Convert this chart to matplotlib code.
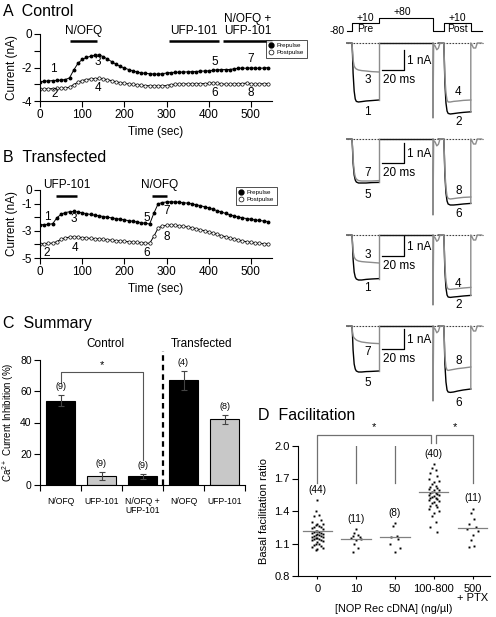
import numpy as np
import matplotlib
matplotlib.use("Agg")
import matplotlib.pyplot as plt
from matplotlib.lines import Line2D

plt.rcParams["font.family"] = ["Liberation Sans", "DejaVu Sans"]
plt.rcParams["axes.unicode_minus"] = False
plt.rcParams["mathtext.fontset"] = "custom"
plt.rcParams["mathtext.rm"] = "Liberation Sans"
plt.rcParams["axes.linewidth"] = 0.8
plt.rcParams["xtick.major.width"] = 0.8
plt.rcParams["ytick.major.width"] = 0.8

# ---------- Panel A / B: time course (s, nA) ----------
TIME = list(range(0, 550, 10))

A_PRE = [-2.85, -2.82, -2.80, -2.78, -2.77, -2.75, -2.72, -2.62, -2.15, -1.75,
         -1.52, -1.40, -1.33, -1.27, -1.25, -1.35, -1.50, -1.65, -1.80, -1.93,
         -2.03, -2.12, -2.20, -2.27, -2.32, -2.35, -2.37, -2.39, -2.40, -2.37,
         -2.33, -2.30, -2.29, -2.28, -2.27, -2.26, -2.25, -2.24, -2.22, -2.21,
         -2.20, -2.17, -2.14, -2.13, -2.12, -2.12, -2.08, -2.05, -2.03, -2.05,
         -2.02, -2.04, -2.05, -2.03, -2.01]
A_POST = [-3.30, -3.28, -3.27, -3.26, -3.25, -3.24, -3.22, -3.18, -3.02, -2.88,
          -2.78, -2.72, -2.68, -2.66, -2.65, -2.68, -2.73, -2.79, -2.85, -2.90,
          -2.95, -2.98, -3.01, -3.04, -3.06, -3.08, -3.09, -3.10, -3.10, -3.09,
          -3.08, -3.02, -3.00, -2.99, -2.98, -2.98, -2.98, -2.97, -2.97, -2.96,
          -2.95, -2.92, -2.95, -2.97, -3.00, -3.00, -2.98, -2.97, -2.96, -2.93,
          -2.98, -3.00, -2.98, -2.97, -2.97]
B_PRE = [-2.55, -2.55, -2.52, -2.48, -2.05, -1.78, -1.66, -1.60, -1.58, -1.62,
         -1.68, -1.74, -1.80, -1.85, -1.90, -1.95, -2.00, -2.05, -2.10, -2.15,
         -2.20, -2.25, -2.30, -2.35, -2.40, -2.45, -2.50, -1.70, -1.02, -0.92,
         -0.88, -0.87, -0.88, -0.90, -0.93, -0.97, -1.02, -1.08, -1.15, -1.23,
         -1.32, -1.42, -1.52, -1.62, -1.72, -1.82, -1.90, -1.98, -2.05, -2.10,
         -2.15, -2.20, -2.24, -2.28, -2.32]
B_POST = [-3.95, -3.95, -3.93, -3.90, -3.80, -3.62, -3.52, -3.47, -3.45, -3.47,
          -3.50, -3.53, -3.56, -3.58, -3.60, -3.63, -3.66, -3.69, -3.72, -3.75,
          -3.78, -3.80, -3.83, -3.85, -3.88, -3.90, -3.92, -3.40, -2.80, -2.65,
          -2.60, -2.58, -2.60, -2.63, -2.67, -2.72, -2.78, -2.85, -2.92, -3.00,
          -3.08, -3.17, -3.26, -3.35, -3.44, -3.52, -3.60, -3.68, -3.75, -3.80,
          -3.85, -3.90, -3.93, -3.95, -3.97]

A_DRUGS = [("N/OFQ", 70, 135), ("UFP-101", 305, 425), ("N/OFQ +\nUFP-101", 435, 550)]
B_DRUGS = [("UFP-101", 38, 88), ("N/OFQ", 265, 300)]
A_MARKS = [("1", 31, -2.1), ("2", 34, -3.6), ("3", 136, -1.7), ("4", 137, -3.2),
           ("5", 415, -1.67), ("6", 415, -3.55), ("7", 499, -1.5), ("8", 499, -3.55)]
B_MARKS = [("1", 17, -2.0), ("2", 17, -4.6), ("3", 81, -2.1), ("4", 83, -4.25),
           ("5", 253, -2.05), ("6", 253, -4.6), ("7", 301, -1.55), ("8", 301, -3.45)]

# ---------- Panel C: summary ----------
C_LABELS = ["N/OFQ", "UFP-101", "N/OFQ +\nUFP-101", "N/OFQ", "UFP-101"]
C_VALUES = [54, 6, 5.5, 67, 42]
C_ERRORS = [3.5, 2.5, 1.5, 6, 3]
C_N = ["(9)", "(9)", "(9)", "(4)", "(8)"]
C_COLORS = ["black", "#c8c8c8", "black", "black", "#c8c8c8"]

# ---------- Panel D: facilitation ----------
D_LABELS = ["0", "10", "50", "100-800", "500\n+ PTX"]
D_N = ["(44)", "(11)", "(8)", "(40)", "(11)"]
D_MEDIANS = [1.215, 1.145, 1.16, 1.578, 1.245]
D_G0 = [1.50, 1.40, 1.36, 1.35, 1.32, 1.30, 1.28, 1.28, 1.27, 1.26, 1.25, 1.25,
        1.24, 1.23, 1.22, 1.22, 1.21, 1.21, 1.20, 1.20, 1.19, 1.19, 1.18, 1.18,
        1.17, 1.17, 1.16, 1.16, 1.15, 1.15, 1.14, 1.14, 1.13, 1.13, 1.12, 1.11,
        1.10, 1.10, 1.09, 1.08, 1.07, 1.06, 1.05, 1.04]
D_G10 = [1.23, 1.20, 1.18, 1.17, 1.16, 1.15, 1.14, 1.13, 1.10, 1.06, 1.02]
D_G50 = [1.29, 1.26, 1.17, 1.16, 1.14, 1.10, 1.06, 1.02]
D_G100 = [1.83, 1.80, 1.78, 1.75, 1.72, 1.70, 1.68, 1.67, 1.65, 1.63,
          1.62, 1.61, 1.60, 1.59, 1.59, 1.58, 1.57, 1.57, 1.56, 1.55,
          1.55, 1.54, 1.53, 1.52, 1.52, 1.51, 1.50, 1.49, 1.48, 1.47,
          1.46, 1.45, 1.44, 1.42, 1.40, 1.38, 1.35, 1.30, 1.25, 1.21]
D_PTX = [1.42, 1.38, 1.33, 1.28, 1.25, 1.23, 1.22, 1.18, 1.13, 1.08, 1.07]

# ---------- Current traces (ms, nA) ----------
PRE_T = [0, 0.5, 1, 2, 3, 4, 6, 9, 13, 18, 25]
POST_T = [85, 85.5, 86, 87, 88, 89, 91, 94, 98, 103, 110]
TAIL_T = [75, 75, 75.6, 77, 78.5, 80, 81.5, 85]
TAIL_SHAPE = [0, 1, 0.02, 0.04, 0.09, 0.07, 0, 0]
END_T = [110, 110, 111, 112.5, 114.5, 116, 120]
END_I = [0, 0, -0.08, -0.25, -0.25, 0, 0]
PROT_T = [-5, 0, 0, 25, 25, 75, 75, 85, 85, 110, 110, 120]
PROT_V = [-80, -80, 10, 10, 80, 80, -80, -80, 10, 10, -80, -80]

# each group: baseline pixel row, tail depth, traces, labels
GROUPS = [
    dict(base=43, tail=-3.75, bar_top=-0.35,
         black_pre=[0, -0.6, -1.5, -2.4, -2.8, -2.92, -2.95, -2.93, -2.9, -2.88, -2.85],
         gray_pre=[0, -0.4, -0.85, -1.15, -1.25, -1.3, -1.35, -1.38, -1.4, -1.43, -1.45],
         black_post=[0, -0.9, -2.0, -3.0, -3.4, -3.52, -3.55, -3.53, -3.5, -3.47, -3.44],
         gray_post=[0, -0.8, -1.7, -2.5, -2.85, -2.95, -2.95, -2.92, -2.9, -2.87, -2.85],
         labels=[("3", -1.85), ("1", -3.45), ("4", -2.45), ("2", -3.95)]),
    dict(base=139, tail=-3.8, bar_top=-0.2,
         black_pre=[0, -0.5, -1.2, -1.8, -2.05, -2.15, -2.2, -2.2, -2.2, -2.18, -2.17],
         gray_pre=[0, -0.4, -1.0, -1.6, -1.9, -2.0, -2.08, -2.1, -2.1, -2.1, -2.08],
         black_post=[0, -0.8, -1.8, -2.7, -3.1, -3.25, -3.3, -3.3, -3.28, -3.25, -3.22],
         gray_post=[0, -0.7, -1.6, -2.45, -2.85, -2.97, -3.0, -2.98, -2.95, -2.92, -2.9],
         labels=[("7", -1.7), ("5", -2.8), ("8", -2.6), ("6", -3.75)]),
    dict(base=235, tail=-3.5, bar_top=-0.05,
         black_pre=[0, -0.5, -1.2, -1.85, -2.1, -2.2, -2.25, -2.25, -2.22, -2.2, -2.18],
         gray_pre=[0, -0.4, -0.8, -1.1, -1.2, -1.25, -1.3, -1.33, -1.35, -1.37, -1.4],
         black_post=[0, -0.8, -1.8, -2.65, -3.0, -3.1, -3.12, -3.1, -3.08, -3.05, -3.02],
         gray_post=[0, -0.7, -1.5, -2.3, -2.6, -2.7, -2.72, -2.7, -2.68, -2.65, -2.62],
         labels=[("3", -1.0), ("1", -2.65), ("4", -2.45), ("2", -3.5)]),
    dict(base=326, tail=-3.75, bar_top=-0.17,
         black_pre=[0, -0.5, -1.2, -1.9, -2.15, -2.25, -2.3, -2.3, -2.28, -2.27, -2.25],
         gray_pre=[0, -0.3, -0.5, -0.6, -0.65, -0.7, -0.75, -0.8, -0.83, -0.86, -0.88],
         black_post=[0, -0.8, -1.9, -2.8, -3.2, -3.3, -3.32, -3.3, -3.25, -3.2, -3.15],
         gray_post=[0, -0.7, -1.5, -2.05, -2.2, -2.22, -2.2, -2.17, -2.13, -2.1, -2.05],
         labels=[("7", -1.3), ("5", -2.85), ("8", -1.75), ("6", -3.85)]),
]

W, H = 496, 617
fig = plt.figure(figsize=(W / 100, H / 100), dpi=100)


def px_ax(x0, y0, x1, y1):
    return fig.add_axes([x0 / W, 1 - y1 / H, (x1 - x0) / W, (y1 - y0) / H])


def clean(ax):
    for s in ("top", "right"):
        ax.spines[s].set_visible(False)
    ax.tick_params(direction="out", length=4, labelsize=8.5, pad=2)


def time_course(ax, pre, post, drugs, marks, ylim, yticks, ylabels, bar_y, txt_y):
    ax.plot(TIME, pre, "-", color="k", lw=0.7, marker="o", ms=1.8, mfc="k", mec="k")
    ax.plot(TIME, post, "-", color="k", lw=0.7, marker="o", ms=2.4, mfc="white",
            mec="k", mew=0.5)
    for name, t0, t1 in drugs:
        ax.plot([t0, t1], [bar_y, bar_y], color="k", lw=1.8, clip_on=False,
                solid_capstyle="butt")
        ax.text((t0 + t1) / 2, txt_y, name, ha="center", va="bottom",
                fontsize=8.5, linespacing=0.95)
    for s, t, v in marks:
        ax.text(t, v, s, ha="center", va="center", fontsize=8.5)
    clean(ax)
    ax.set_xlim(0, 550)
    ax.set_ylim(*ylim)
    ax.set_xticks(range(0, 501, 100))
    ax.set_yticks(yticks)
    ax.set_yticklabels(ylabels)
    ax.set_ylabel("Current (nA)", fontsize=8.5, labelpad=2)
    ax.set_xlabel("Time (sec)", fontsize=8.5, labelpad=3)


def legend(x, y):
    handles = [Line2D([], [], ls="none", marker="o", ms=3.5, mfc="k", mec="k"),
               Line2D([], [], ls="none", marker="o", ms=3.5, mfc="white", mec="k", mew=0.5)]
    lg = fig.legend(handles, ["Prepulse", "Postpulse"], loc="upper left",
                    bbox_to_anchor=(x / W, 1 - y / H), fontsize=4.5, frameon=True,
                    fancybox=False, edgecolor="k", borderpad=0.45, handlelength=0.8,
                    handletextpad=0.4, labelspacing=0.25, borderaxespad=0)
    lg.get_frame().set_linewidth(0.6)


# ---- Panel A ----
fig.text(3 / W, 1 - 12 / H, "A  Control", fontsize=11.5, va="center")
axA = px_ax(40, 34, 272, 101)
time_course(axA, A_PRE, A_POST, A_DRUGS, A_MARKS, (-4, 0), [0, -1, -2, -3, -4],
            ["0", "", "-2", "", "-4"], -0.42, -0.15)
legend(266, 40)

# ---- Panel B ----
fig.text(3 / W, 1 - 158 / H, "B  Transfected", fontsize=11.5, va="center")
axB = px_ax(40, 190, 272, 258)
time_course(axB, B_PRE, B_POST, B_DRUGS, B_MARKS, (-5, 0), [0, -1, -2, -3, -4, -5],
            ["0", "-1", "", "-3", "", "-5"], -0.45, -0.1)
legend(236, 187)

# ---- Panel C ----
fig.text(3 / W, 1 - 324 / H, "C  Summary", fontsize=11.5, va="center")
axC = px_ax(40, 360, 245, 485)
xc = np.arange(len(C_VALUES))
axC.bar(xc, C_VALUES, width=0.7, color=C_COLORS, edgecolor="k", lw=0.8, zorder=2)
axC.errorbar(xc, C_VALUES, yerr=C_ERRORS, fmt="none", ecolor="#444444",
             elinewidth=0.8, capsize=2.5, capthick=0.8, zorder=3)
for x, v, e, n in zip(xc, C_VALUES, C_ERRORS, C_N):
    axC.text(x, v + e + 2.5, n, ha="center", va="bottom", fontsize=6.5)
axC.plot([0, 0, 2, 2], [65, 72.5, 72.5, 16], color="#555555", lw=0.8)
axC.text(1, 73.5, "*", ha="center", va="bottom", fontsize=8)
axC.plot([2.5, 2.5], [0, 86], color="k", lw=1.6, ls=(0, (2.5, 1.8)), clip_on=False)
axC.text(1.1, 90, "Control", ha="center", va="center", fontsize=8.5)
axC.text(3.45, 90, "Transfected", ha="center", va="center", fontsize=8.5)
clean(axC)
axC.set_xlim(-0.5, 4.5)
axC.set_ylim(0, 80)
axC.set_yticks(range(0, 81, 20))
axC.tick_params(axis="y", labelsize=7.5)
axC.set_xticks(xc)
axC.set_xticklabels(C_LABELS, fontsize=6.2, linespacing=0.9)
axC.tick_params(axis="x", length=0, pad=9)
axC.set_xticks(np.arange(-0.5, 5, 1), minor=True)
axC.tick_params(axis="x", which="minor", length=4, width=0.8, direction="out")
axC.set_ylabel(r"Ca$^{2+}$ Current Inhibition (%)", fontsize=7, labelpad=3)

# ---- Panel D ----
fig.text(258 / W, 1 - 416 / H, "D  Facilitation", fontsize=11.5, va="center")
axD = px_ax(298, 446, 490, 576)
groups = [D_G0, D_G10, D_G50, D_G100, D_PTX]
pattern = [0, -1, 1, -2, 2, -3, 3]
for i, g in enumerate(groups):
    vals = sorted(g, reverse=True)
    xs = [i + 0.045 * pattern[k % len(pattern)] for k in range(len(vals))]
    axD.plot(xs, vals, ls="none", marker="s", ms=1.4, color="k", mew=0)
    axD.plot([i - 0.38, i + 0.38], [D_MEDIANS[i]] * 2, color="#808080", lw=0.9)
    axD.text(i, max(g) + 0.05, D_N[i], ha="center", va="bottom", fontsize=7.2)
br = "#707070"
axD.plot([0, 0, 2.93, 2.93], [1.655, 2.1, 2.1, 2.03], color=br, lw=0.9, clip_on=False)
axD.plot([1, 1], [1.655, 2.1], color=br, lw=0.9)
axD.plot([2, 2], [1.655, 2.1], color=br, lw=0.9)
axD.plot([3.07, 3.07, 4, 4], [2.03, 2.1, 2.1, 1.655], color=br, lw=0.9, clip_on=False)
axD.text(1.45, 2.13, "*", ha="center", va="bottom", fontsize=8, clip_on=False)
axD.text(3.55, 2.13, "*", ha="center", va="bottom", fontsize=8, clip_on=False)
clean(axD)
axD.set_xlim(-0.5, 4.45)
axD.set_ylim(0.8, 2.0)
axD.set_yticks([0.8, 1.1, 1.4, 1.7, 2.0])
axD.set_yticklabels(["0.8", "1.1", "1.4", "1.7", "2.0"])
axD.set_xticks(range(5))
axD.set_xticklabels(D_LABELS, linespacing=0.9)
axD.tick_params(axis="x", length=2.5, pad=3)
axD.tick_params(labelsize=8)
axD.set_ylabel("Basal facilitation ratio", fontsize=8, labelpad=4)
axD.set_xlabel("[NOP Rec cDNA] (ng/\u00b5l)", fontsize=7.8, labelpad=0.5)

# ---- Current traces ----
PX_MS = 1.08
T0_PX = 352
XL = (-6, 125)


def trace_ax(base):
    x0 = T0_PX + XL[0] * PX_MS
    x1 = T0_PX + XL[1] * PX_MS
    ax = px_ax(x0, base - 7, x1, base + 86)
    ax.set_xlim(*XL)
    ax.set_ylim(-4.3, 0.35)
    ax.axis("off")
    return ax


for g in GROUPS:
    ax = trace_ax(g["base"])
    ax.plot([-5, 121], [0, 0], color="0.25", lw=0.8, ls=(0, (1.5, 1.2)))
    ax.plot([25, 75], [0.02, 0.02], color="0.1", lw=1.0)
    for key, col in (("black_pre", "k"), ("gray_pre", "0.55")):
        ax.plot([-5] + PRE_T, [0] + g[key], color=col, lw=1.0)
    for key, col in (("black_post", "k"), ("gray_post", "0.55")):
        ax.plot([80] + POST_T, [0] + g[key], color=col, lw=1.0)
    ax.plot([25, 25], [g["black_pre"][-1], 0.02], color="0.55", lw=1.0)
    ax.plot(TAIL_T, [s * g["tail"] for s in TAIL_SHAPE], color="0.55", lw=1.0)
    end_i = list(END_I)
    end_i[0] = g["black_post"][-1]
    ax.plot(END_T, end_i, color="0.55", lw=1.0)
    # scale bar 20 ms / 1 nA
    top = g["bar_top"]
    ax.plot([28, 48, 48], [top - 1, top - 1, top], color="k", lw=0.9)
    ax.text(50.5, top - 0.55, "1 nA", ha="left", va="center", fontsize=8.5)
    ax.text(28.5, top - 1.5, "20 ms", ha="left", va="center", fontsize=8.5)
    (l1, v1), (l2, v2), (l3, v3), (l4, v4) = g["labels"]
    ax.text(14.5, v1, l1, ha="center", va="center", fontsize=8.5)
    ax.text(14.5, v2, l2, ha="center", va="center", fontsize=8.5)
    ax.text(98.5, v3, l3, ha="center", va="center", fontsize=8.5)
    ax.text(98.5, v4, l4, ha="center", va="center", fontsize=8.5)

# voltage protocol
axP = px_ax(T0_PX + XL[0] * PX_MS, 10, T0_PX + XL[1] * PX_MS, 36)
axP.plot(PROT_T, PROT_V, color="k", lw=0.8)
axP.set_xlim(*XL)
axP.set_ylim(-147, 173)
axP.axis("off")
axP.text(-7, -80, "-80", ha="right", va="center", fontsize=7.5)
axP.text(12.5, 12, "+10", ha="center", va="bottom", fontsize=7.5)
axP.text(12.5, -60, "Pre", ha="center", va="center", fontsize=7.5)
axP.text(47, 82, "+80", ha="center", va="bottom", fontsize=7.5)
axP.text(97.5, 12, "+10", ha="center", va="bottom", fontsize=7.5)
axP.text(97.5, -60, "Post", ha="center", va="center", fontsize=7.5)

fig.savefig("out.png", dpi=100)
